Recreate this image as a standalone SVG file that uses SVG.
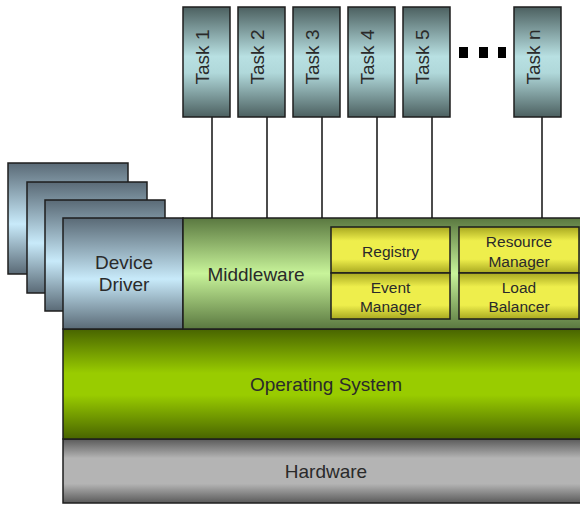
<svg xmlns="http://www.w3.org/2000/svg" width="580" height="505" viewBox="0 0 580 505">
<defs>
<linearGradient id="gTask" x1="0" y1="0" x2="0" y2="1">
<stop offset="0" stop-color="#4c6060"/><stop offset="0.45" stop-color="#b8e0e2"/><stop offset="0.6" stop-color="#b0d8da"/><stop offset="1" stop-color="#4c6060"/>
</linearGradient>
<linearGradient id="gDev" x1="0" y1="0" x2="0" y2="1">
<stop offset="0" stop-color="#5a6a76"/><stop offset="0.55" stop-color="#c8eafa"/><stop offset="1" stop-color="#5a6a76"/>
</linearGradient>
<linearGradient id="gMid" x1="0" y1="0" x2="0" y2="1">
<stop offset="0" stop-color="#5a7840"/><stop offset="0.5" stop-color="#c8f49a"/><stop offset="1" stop-color="#5a7840"/>
</linearGradient>
<linearGradient id="gYel" x1="0" y1="0" x2="0" y2="1">
<stop offset="0" stop-color="#a8a820"/><stop offset="0.3" stop-color="#eeee4c"/><stop offset="0.7" stop-color="#eeee4c"/><stop offset="1" stop-color="#a8a820"/>
</linearGradient>
<linearGradient id="gOS" x1="0" y1="0" x2="0" y2="1">
<stop offset="0" stop-color="#486400"/><stop offset="0.4" stop-color="#99cc00"/><stop offset="0.6" stop-color="#99cc00"/><stop offset="1" stop-color="#486400"/>
</linearGradient>
<linearGradient id="gHW" x1="0" y1="0" x2="0" y2="1">
<stop offset="0" stop-color="#5a5a5a"/><stop offset="0.3" stop-color="#b4b4b4"/><stop offset="0.7" stop-color="#b4b4b4"/><stop offset="1" stop-color="#5a5a5a"/>
</linearGradient>
</defs>
<style>
.box{stroke:#1e1e1e;stroke-width:1.5}
.task{fill:url(#gTask)}
.dev{fill:url(#gDev)}
.yel{fill:url(#gYel)}
text{font-family:"Liberation Sans",Arial,sans-serif;fill:#2a2a2a;text-anchor:middle}
.big{font-size:19px}
.small{font-size:15.5px}
.conn line{stroke:#111;stroke-width:1.5}
</style>

<g id="hardware"><rect class="box" x="63" y="439" width="520" height="64" fill="url(#gHW)"/><text class="big" x="326" y="478">Hardware</text></g>
<g id="os"><rect class="box" x="63" y="329" width="520" height="110" fill="url(#gOS)"/><text class="big" x="326" y="391">Operating System</text></g>

<g id="driver-stack">
<rect class="box dev" x="8" y="163" width="120" height="111"/>
<rect class="box dev" x="27" y="182" width="120" height="111"/>
<rect class="box dev" x="45" y="200" width="120" height="111"/>
</g>
<g id="device-driver"><rect class="box dev" x="63" y="218" width="120" height="111"/><text class="big" x="124" y="269">Device</text><text class="big" x="124" y="291">Driver</text></g>

<g id="middleware"><rect class="box" x="183" y="218" width="400" height="111" fill="url(#gMid)"/><text class="big" x="256" y="281">Middleware</text></g>
<g id="registry"><rect class="box yel" x="331" y="227" width="119" height="46"/><text class="small" x="390.5" y="257">Registry</text></g>
<g id="event-manager"><rect class="box yel" x="331" y="273" width="119" height="46"/><text class="small" x="390.5" y="293">Event</text><text class="small" x="390.5" y="312">Manager</text></g>
<g id="resource-manager"><rect class="box yel" x="459" y="227" width="120" height="46"/><text class="small" x="519" y="247">Resource</text><text class="small" x="519" y="267">Manager</text></g>
<g id="load-balancer"><rect class="box yel" x="459" y="273" width="120" height="46"/><text class="small" x="519" y="293">Load</text><text class="small" x="519" y="312">Balancer</text></g>

<g class="conn" id="connectors">
<line x1="212" y1="117" x2="212" y2="218"/>
<line x1="267" y1="117" x2="267" y2="218"/>
<line x1="322" y1="117" x2="322" y2="218"/>
<line x1="377" y1="117" x2="377" y2="218"/>
<line x1="432" y1="117" x2="432" y2="218"/>
<line x1="542" y1="117" x2="542" y2="218"/>
</g>

<g id="task1"><rect class="box task" x="183" y="7" width="47" height="110"/><text class="big" transform="translate(209,57) rotate(-90)">Task 1</text></g>
<g id="task2"><rect class="box task" x="238" y="7" width="47" height="110"/><text class="big" transform="translate(264,57) rotate(-90)">Task 2</text></g>
<g id="task3"><rect class="box task" x="293" y="7" width="47" height="110"/><text class="big" transform="translate(319,57) rotate(-90)">Task 3</text></g>
<g id="task4"><rect class="box task" x="348" y="7" width="47" height="110"/><text class="big" transform="translate(374,57) rotate(-90)">Task 4</text></g>
<g id="task5"><rect class="box task" x="403" y="7" width="47" height="110"/><text class="big" transform="translate(429,57) rotate(-90)">Task 5</text></g>
<g id="taskn"><rect class="box task" x="514" y="7" width="47" height="110"/><text class="big" transform="translate(540,57) rotate(-90)">Task n</text></g>

<g id="ellipsis" fill="#000">
<rect x="459" y="47" width="9" height="11"/>
<rect x="479" y="47" width="9" height="11"/>
<rect x="498" y="47" width="8" height="11"/>
</g>
</svg>
